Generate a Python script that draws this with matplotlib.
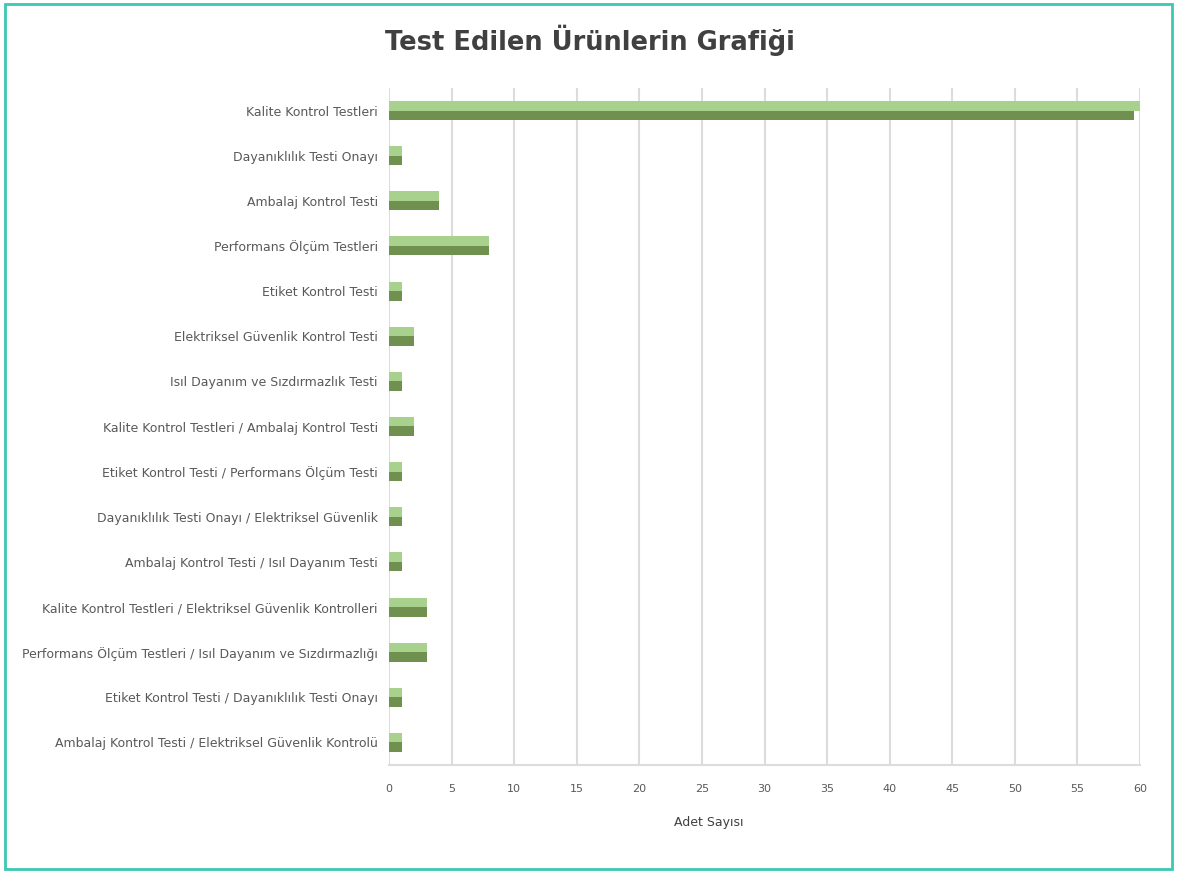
import numpy as np
import matplotlib
matplotlib.use("Agg")
import matplotlib.pyplot as plt
import matplotlib.patches as patches

# data
categories = [
    "Kalite Kontrol Testleri",
    "Dayanıklılık Testi Onayı",
    "Ambalaj Kontrol Testi",
    "Performans Ölçüm Testleri",
    "Etiket Kontrol Testi",
    "Elektriksel Güvenlik Kontrol Testi",
    "Isıl Dayanım ve Sızdırmazlık Testi",
    "Kalite Kontrol Testleri / Ambalaj Kontrol Testi",
    "Etiket Kontrol Testi / Performans Ölçüm Testi",
    "Dayanıklılık Testi Onayı / Elektriksel Güvenlik",
    "Ambalaj Kontrol Testi / Isıl Dayanım Testi",
    "Kalite Kontrol Testleri / Elektriksel Güvenlik Kontrolleri",
    "Performans Ölçüm Testleri / Isıl Dayanım ve Sızdırmazlığı",
    "Etiket Kontrol Testi / Dayanıklılık Testi Onayı",
    "Ambalaj Kontrol Testi / Elektriksel Güvenlik Kontrolü",
]
series_light = [60, 1, 4, 8, 1, 2, 1, 2, 1, 1, 1, 3, 3, 1, 1]
series_dark = [59.5, 1, 4, 8, 1, 2, 1, 2, 1, 1, 1, 3, 3, 1, 1]
x_ticks = list(range(0, 61, 5))

title = "Test Edilen Ürünlerin Grafiği"
x_label = "Adet Sayısı"

light_color = "#a9d18e"
dark_color = "#70904f"
grid_color = "#dcdcdc"
text_color = "#595959"

fig = plt.figure(figsize=(11.77, 8.72), dpi=100)
ax = fig.add_axes([389 / 1177, 107 / 872, (1140 - 389) / 1177, (765 - 88) / 872])

y = np.arange(len(categories))
h = 0.21
ax.barh(y - h / 2, series_light, height=h, color=light_color, zorder=3)
ax.barh(y + h / 2, series_dark, height=h, color=dark_color, zorder=3)

ax.set_ylim(len(categories) - 0.5, -0.5)
ax.set_xlim(0, 60)
ax.set_xticks(x_ticks)
ax.set_yticks(y)
ax.set_yticklabels(categories, fontsize=9, color=text_color)
ax.tick_params(axis="x", labelsize=8, colors=text_color, length=0, pad=14)
ax.tick_params(axis="y", length=0, pad=8)

ax.grid(axis="x", color=grid_color, linewidth=1.5, zorder=0)
for s in ["top", "right", "left"]:
    ax.spines[s].set_visible(False)
ax.spines["bottom"].set_color(grid_color)
ax.spines["bottom"].set_linewidth(1.5)

fig.text(590 / 1177, 1 - 40 / 872, title, ha="center", va="center",
         fontsize=18.5, fontweight="bold", color="#404040")
fig.text(709 / 1177, 1 - 822 / 872, x_label, ha="center", va="center",
         fontsize=9, color="#404040")

# teal frame around the picture
frame = patches.Rectangle((5 / 1177, 3 / 872), 1167 / 1177, 865 / 872,
                          transform=fig.transFigure, fill=False,
                          edgecolor="#3cc8b4", linewidth=2)
fig.patches.append(frame)

fig.savefig("out.png", dpi=100)
